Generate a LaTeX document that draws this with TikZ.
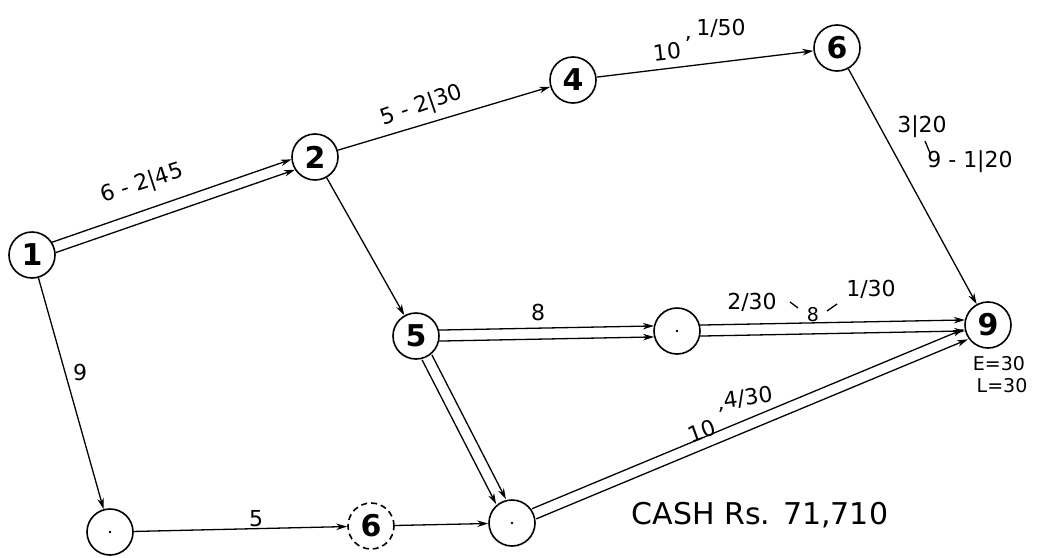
\documentclass[tikz,border=0pt]{standalone}
\usepackage{fontspec}
\setmainfont{DejaVu Sans}
\usetikzlibrary{arrows.meta,calc}
\newcommand{\dblarrow}[3]{%
  \draw[arr, shorten <=#3, shorten >=#3] ($(#1)!5.5pt!90:(#2)$) -- ($(#2)!5.5pt!-90:(#1)$);
  \draw[arr, shorten <=#3, shorten >=#3] ($(#1)!5.5pt!-90:(#2)$) -- ($(#2)!5.5pt!90:(#1)$);}
\begin{document}
\begin{tikzpicture}[x=1pt,y=-1pt,
  ev/.style={circle, draw, line width=1.6pt, minimum size=46pt, inner sep=0pt,
    font=\fontsize{30}{30}\selectfont\bfseries},
  dummy/.style={ev, dash pattern=on 6pt off 4pt},
  arr/.style={line width=1.3pt, -{Stealth[length=11pt,width=6.5pt]}},
  plain/.style={line width=1.3pt},
  lbl/.style={font=\fontsize{22}{22}\selectfont, inner sep=0pt},
  sml/.style={font=\fontsize{19}{19}\selectfont, inner sep=0pt},
]
\useasboundingbox (0,0) rectangle (1047,557);
% events
\node[ev] (n1) at (32,255) {1};
\node[ev] (n2) at (315,157) {2};
\node[ev] (n4) at (573,80) {4};
\node[ev] (n6) at (837,48) {6};
\node[ev] (n5) at (416,336) {5};
\node[ev] (nA) at (677,331) {};
\node[ev] (n9) at (988,325) {9};
\node[ev] (nB) at (110,532) {};
\node[dummy] (d6) at (371,526) {6};
\node[ev] (nC) at (512,523) {};
\fill (nA.center) circle (1.3pt);
\fill (nB.center) circle (1.3pt);
\fill (nC.center) circle (1.3pt);
% activities
\dblarrow{n1}{n2}{23pt}
\draw[arr] (n2) -- (n4);
\draw[arr] (n4) -- (n6);
\draw[arr] (n2) -- (n5);
\draw[arr] (n6) -- (n9);
\dblarrow{n5}{nA}{23pt}
\dblarrow{nA}{n9}{23pt}
\dblarrow{n5}{nC}{24pt}
\dblarrow{nC}{n9}{24pt}
\draw[arr] (n1) -- (nB);
\draw[arr] (nB) -- (d6);
\draw[arr] (d6) -- (nC);
% labels
\node[lbl, rotate=18] (l12) at (142,184) {6 - 2|45};
\node[lbl, rotate=19] (l24) at (422,106) {5 - 2|30};
\node[lbl, rotate=6] (l46a) at (667,52) {10};
\node[lbl] (l46b) at (688,44) {'};
\node[lbl] (l46c) at (721,28) {1/50};
\node[lbl] (l69a) at (922,127) {3|20};
\draw[plain] (925,141) -- (930,153);
\node[lbl] (l69b) at (970,162) {9 - 1|20};
\node[lbl] (l5A) at (538,312) {8};
\node[lbl] (lA9a) at (752,302) {2/30};
\draw[plain] (790,302) -- (798,308);
\node[sml] (lA9b) at (813,315) {8};
\draw[plain] (827,311) -- (837,304);
\node[lbl] (lA9c) at (871,289) {1/30};
\node[lbl] (l1B) at (80,372) {9};
\node[lbl] (lBd) at (256,519) {5};
\node[lbl, rotate=20] (lC9a) at (702,431) {10};
\node[lbl] (lC9b) at (721,415) {'};
\node[lbl, rotate=8] (lC9c) at (748,398) {4/30};
\node[sml] (lE) at (999,364) {E=30};
\node[sml] (lL) at (1002,386) {L=30};
\node[font=\fontsize{30}{30}\selectfont, inner sep=0pt] (cash) at (760,515) {CASH Rs. 71,710};
\end{tikzpicture}
\end{document}
